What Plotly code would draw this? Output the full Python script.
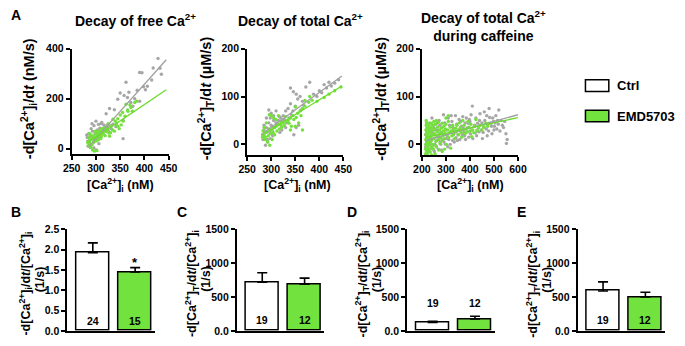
import plotly.graph_objects as go

W, H = 685, 346
FONT = "Liberation Sans"
GRAY = "#A6A6A6"
GREEN = "#74E03C"
GREEN_FILL = "#72E23E"

# ---------------- data ----------------
# Panel A1: decay of free Ca2+  ([Ca2+]i nM, -d[Ca2+]i/dt nM/s)
a1_ctrl = [(428,361),(418,323),(432,322),(395,304),(390,305),(435,298),(415,275),(402,236),(385,234),
           (368,226),(365,205),(380,200),(362,266),(350,223),(358,213),(345,198),(328,161),(338,156),
           (356,114),(356,40),(341,88),(321,140),(372,185),(376,170),(390,190),(406,250),(398,248),
           (300,110),(310,100),(316,95),(322,92),(312,105),(305,97),(296,92),(290,80),(285,60),(282,45),
           (288,50),(293,70),(298,60),(303,75),(308,82),(313,78),(318,85),(325,88),(330,92),(335,98),
           (283,30),(286,20),(290,15),(295,25),(300,35),(284,10),(289,5),(294,40),(299,45),(304,55),
           (309,65),(314,70),(320,75),(326,70),(332,80),(287,35),(291,50),(296,3),(301,-5),(306,20),
           (281,55),(292,100),(311,60)]
a1_emd = [(380,185),(384,190),(370,175),(362,178),(365,155),(375,150),(355,145),(350,135),(345,120),
          (360,130),(340,110),(335,118),(330,90),(325,100),(320,85),(338,70),(348,80),(352,95),(342,100),
          (318,70),(314,62),(310,55),(306,48),(302,52),(298,45),(294,40),(290,38),(286,30),(283,25),
          (288,20),(292,15),(296,28),(300,60),(304,65),(308,72),(312,80),(316,75),(322,68),(327,62),
          (285,45),(290,55),(295,50),(300,30),(305,35),(310,40),(284,12),(289,5),(293,-5),(297,-10),
          (302,-8),(287,60),(299,70),(303,42),(307,62),(311,48),(315,58),(319,52),(324,78),(330,64),
          (334,75),(356,110),(366,150),(372,165),(345,90),(328,50)]
a1_ctrl_fit_x = [285, 445]
a1_ctrl_fit_y = [8, 356]
a1_emd_fit_x = [285, 445]
a1_emd_fit_y = [26, 236]

# Panel A2: decay of total Ca2+  ([Ca2+]i nM, -d[Ca2+]T/dt uM/s)
a2_ctrl = [(440,135),(420,130),(432,128),(410,125),(400,112),(395,100),(380,130),(372,120),(388,105),
           (405,108),(415,118),(425,122),(360,100),(355,95),(365,90),(350,80),(345,70),(340,85),(335,75),
           (330,70),(325,60),(320,55),(315,50),(310,45),(305,50),(300,40),(295,45),(290,35),(285,30),
           (282,20),(287,15),(292,10),(297,25),(302,30),(307,35),(312,40),(317,58),(322,48),(327,52),
           (332,45),(337,55),(342,62),(347,20),(352,35),(357,40),(362,72),(367,82),(300,65),(305,60),
           (310,70),(295,72),(290,55),(285,40),(283,10),(288,-2),(293,5),(298,12),(303,18),(346,110),
           (340,118),(352,105),(322,30),(330,35),(318,25),(298,55)]
a2_emd = [(445,120),(432,112),(420,105),(410,98),(395,90),(385,92),(378,88),(370,80),(365,75),(360,70),
          (355,65),(350,78),(345,60),(340,55),(335,50),(330,58),(325,45),(320,40),(315,42),(310,38),
          (305,35),(300,30),(295,32),(290,25),(285,20),(282,15),(287,10),(292,5),(297,-2),(302,10),
          (307,20),(312,28),(317,32),(322,36),(327,40),(332,48),(337,44),(342,38),(347,52),(352,56),
          (357,45),(362,60),(300,60),(305,55),(296,62),(310,52),(315,60),(320,48),(290,45),(285,35),
          (283,28),(288,15),(294,18),(299,22),(304,25),(370,92),(380,100),(365,30),(350,38),(340,30)]
a2_ctrl_fit_x = [283, 447]
a2_ctrl_fit_y = [23, 143]
a2_emd_fit_x = [283, 447]
a2_emd_fit_y = [21, 122]

# Panel A3: decay of total Ca2+ during caffeine
a3_ctrl = [(555,10),(550,22),(540,35),(530,50),(520,72),(515,50),(505,45),(500,30),(495,55),(490,38),
           (480,75),(475,42),(470,60),(460,68),(455,25),(450,45),(440,50),(430,30),(425,55),(420,40),
           (410,80),(405,62),(400,48),(395,15),(390,35),(385,55),(380,45),(375,25),(370,58),(365,38),
           (360,30),(355,52),(350,20),(345,42),(340,60),(335,5),(330,35),(325,48),(320,25),(315,40),
           (310,55),(305,18),(300,30),(295,45),(290,62),(285,10),(280,25),(275,40),(270,15),(265,30),
           (260,-5),(255,20),(250,35),(245,-10),(240,8),(235,28),(230,-15),(225,15),(220,0),(218,30),
           (222,-20),(228,40),(232,45),(238,-8),(242,55),(248,12),(252,-15),(258,42),(262,8),(268,-10),
           (272,50),(278,0),(282,-12),(288,20),(292,5),(298,0),(302,12),(308,-5),(312,10),(318,0),
           (322,60),(328,8),(332,20),(338,28),(342,14),(348,8),(352,30),(358,10),(362,48),(368,20),
           (372,34),(378,18),(382,10),(388,26),(392,44),(398,52),(402,22),(408,30),(412,12),(418,38),
           (422,24),(428,18),(432,44),(438,26),(442,64),(448,30),(452,12),(458,36),(462,50),(468,32),
           (472,18),(478,28),(482,56),(488,44),(492,22),(498,48),(502,38),(508,60),(512,32),(518,42),
           (525,28),(535,40),(545,48),(552,2),(215,20),(216,-5),(219,45),(224,5),(226,-12),(234,0),
           (236,18),(244,25),(246,-2),(254,0),(256,30),(264,18),(266,45),(274,22),(276,5),(284,35)]
a3_emd = [(215,-20),(215,-10),(216,0),(216,10),(217,20),(217,30),(218,40),(218,50),(219,-15),(219,5),
          (220,15),(220,25),(221,35),(221,45),(222,-5),(223,-18),(223,8),(224,18),(224,28),(225,38),
          (226,-8),(226,2),(227,12),(227,22),(228,32),(229,42),(230,-12),(230,-2),(231,6),(232,16),
          (233,26),(234,36),(235,-16),(236,4),(237,14),(238,24),(239,34),(240,44),(241,-6),(242,10),
          (243,20),(244,30),(245,40),(246,0),(248,-10),(250,12),(252,22),(254,32),(256,42),(258,6),
          (260,-4),(262,16),(264,26),(266,36),(268,46),(270,10),(272,20),(274,30),(276,2),(278,14),
          (280,24),(282,34),(284,44),(286,8),(288,18),(290,28),(292,38),(294,12),(296,22),(298,32),
          (300,42),(302,0),(305,20),(308,30),(310,48),(312,14),(315,24),(318,36),(320,-8),(322,28),
          (325,18),(328,40),(330,30),(333,22),(336,12),(340,34),(343,26),(346,40),(350,30),(353,20),
          (356,45),(360,35),(363,25),(366,15),(370,50),(373,30),(376,40),(380,22),(384,32),(388,26),
          (392,48),(396,36),(400,28),(404,42),(408,16),(412,30),(416,24),(420,38),(425,52),(430,28),
          (436,34),(442,40),(450,30),(458,36),(466,44),(474,38),(480,44),(260,50),(250,48),(270,-12),
          (285,-15),(295,-10),(300,55),(310,60),(255,-20),(240,-22)]
a3_ctrl_fit_x = [215, 600]
a3_ctrl_fit_y = [8, 62]
a3_emd_fit_x = [215, 600]
a3_emd_fit_y = [14, 56]

# Bar panels B-E
groups = ["Ctrl", "EMD5703"]
bar_pos = [1, 2]
b_mean, b_sem, b_n = [1.93, 1.45], [0.24, 0.11], ["24", "15"]
c_mean, c_sem, c_n = [720, 690], [140, 90], ["19", "12"]
d_mean, d_sem, d_n = [125, 175], [15, 40], ["19", "12"]
e_mean, e_sem, e_n = [590, 500], [135, 70], ["19", "12"]

b_ticks = [0, 0.5, 1.0, 1.5, 2.0, 2.5]
b_ticktext = ["0.0", "0.5", "1.0", "1.5", "2.0", "2.5"]
cde_ticks = [0, 500, 1000, 1500]
cde_ticktext = ["0.0", "500", "1000", "1500"]

# ---------------- helpers ----------------
def X(p):
    return p / W

def Y(p):
    return 1 - p / H

def xdom(a, b):
    return [X(a), X(b)]

def ydom(top, bottom):
    return [Y(bottom), Y(top)]

BOLD = dict(family=FONT, color="black", weight="bold")

def axstyle(**kw):
    d = dict(showline=True, linecolor="black", linewidth=2, ticks="outside", ticklen=4,
             tickwidth=2, tickcolor="black", showgrid=False, zeroline=False,
             tickfont=dict(size=10.5, **BOLD), fixedrange=True, mirror=False)
    d.update(kw)
    return d

fig = go.Figure()

def scatter_panel(n, ctrl, emd, cfx, cfy, efx, efy):
    xa, ya = ("x" if n == 1 else f"x{n}"), ("y" if n == 1 else f"y{n}")
    cx, cy = zip(*ctrl)
    ex, ey = zip(*emd)
    fig.add_trace(go.Scatter(x=cx, y=cy, mode="markers", xaxis=xa, yaxis=ya, cliponaxis=False,
                             marker=dict(size=3.4, color=GRAY), showlegend=False))
    fig.add_trace(go.Scatter(x=ex, y=ey, mode="markers", xaxis=xa, yaxis=ya, cliponaxis=False,
                             marker=dict(size=3.4, color=GREEN), showlegend=False))
    fig.add_trace(go.Scatter(x=cfx, y=cfy, mode="lines", xaxis=xa, yaxis=ya,
                             line=dict(color="#A0A0A0", width=1.3), showlegend=False))
    fig.add_trace(go.Scatter(x=efx, y=efy, mode="lines", xaxis=xa, yaxis=ya,
                             line=dict(color="#6ADC2C", width=1.3), showlegend=False))

scatter_panel(1, a1_ctrl, a1_emd, a1_ctrl_fit_x, a1_ctrl_fit_y, a1_emd_fit_x, a1_emd_fit_y)
scatter_panel(2, a2_ctrl, a2_emd, a2_ctrl_fit_x, a2_ctrl_fit_y, a2_emd_fit_x, a2_emd_fit_y)
scatter_panel(3, a3_ctrl, a3_emd, a3_ctrl_fit_x, a3_ctrl_fit_y, a3_emd_fit_x, a3_emd_fit_y)

def bar_panel(n, mean, sem):
    xa, ya = f"x{n}", f"y{n}"
    fig.add_trace(go.Bar(x=bar_pos, y=mean, width=0.78, xaxis=xa, yaxis=ya,
                         marker=dict(color=["white", GREEN_FILL], line=dict(color="black", width=1.5)),
                         error_y=dict(type="data", symmetric=False, array=sem, arrayminus=[0, 0],
                                      color="black", thickness=1.6, width=5),
                         showlegend=False))

bar_panel(4, b_mean, b_sem)
bar_panel(5, c_mean, c_sem)
bar_panel(6, d_mean, d_sem)
bar_panel(7, e_mean, e_sem)

# ---------------- layout ----------------
TOP_Y = ydom(44.3, 153.2)
TOP_Y2 = ydom(44.3, 154.2)
BOT_Y = ydom(231.5, 336.5)

axis_b = [60, 234, 409, 584]
bar_w_px = 90

layout = dict(
    width=W, height=H, margin=dict(l=0, r=0, t=0, b=0), autosize=False,
    paper_bgcolor="white", plot_bgcolor="white", showlegend=False, bargap=0,
    xaxis=axstyle(domain=xdom(64.4, 164), range=[250, 450], tickvals=[250, 300, 350, 400, 450], anchor="y"),
    yaxis=axstyle(domain=TOP_Y, range=[-21, 400], tickvals=[0, 200, 400], anchor="x"),
    xaxis2=axstyle(domain=xdom(244.6, 343.4), range=[250, 450], tickvals=[250, 300, 350, 400, 450], anchor="y2"),
    yaxis2=axstyle(domain=TOP_Y2, range=[-22, 200], tickvals=[0, 100, 200], anchor="x2"),
    xaxis3=axstyle(domain=xdom(424, 522.7), range=[200, 600], tickvals=[200, 300, 400, 500, 600], anchor="y3"),
    yaxis3=axstyle(domain=TOP_Y2, range=[-22, 200], tickvals=[0, 100, 200], anchor="x3"),
)
for i, a in enumerate(axis_b):
    n = i + 4
    layout[f"xaxis{n}"] = axstyle(domain=xdom(a, a + bar_w_px), range=[0.4, 2.47], ticks="",
                                  showticklabels=False, anchor=f"y{n}")
    if n == 4:
        yk = dict(range=[0, 2.5], tickvals=b_ticks, ticktext=b_ticktext)
    else:
        yk = dict(range=[0, 1500], tickvals=cde_ticks, ticktext=cde_ticktext)
    layout[f"yaxis{n}"] = axstyle(domain=BOT_Y, anchor=f"x{n}", **yk)

fig.update_layout(**layout)

ann = []

def text(x, y, s, size, angle=0, xanchor="center", yanchor="middle", **kw):
    ann.append(dict(x=X(x), y=Y(y), xref="paper", yref="paper", text=s, showarrow=False,
                    textangle=angle, xanchor=xanchor, yanchor=yanchor,
                    font=dict(size=size, **BOLD), **kw))

# panel letters
text(7, 9, "A", 14)
text(7, 213, "B", 14)
text(178, 213, "C", 14)
text(352, 213, "D", 14)
text(526, 213, "E", 14)

# titles
text(130, 15, "Decay of free Ca<sup>2+</sup>", 14)
text(299, 15, "Decay of total Ca<sup>2+</sup>", 14)
text(487, 21, "Decay of total Ca<sup>2+</sup><br>during caffeine", 14)

# x titles
xt = "[Ca<sup>2+</sup>]<sub>i</sub> (nM)"
text(115, 185, xt, 12.5)
text(296, 185, xt, 12.5)
text(474, 185, xt, 12.5)

# y titles (top)
text(20, 96, "-d[Ca<sup>2+</sup>]<sub>i</sub>/d<i>t</i> (nM/s)", 14.5, angle=-90)
text(202, 96, "-d[Ca<sup>2+</sup>]<sub>T</sub>/d<i>t</i> (µM/s)", 14.5, angle=-90)
text(382, 96, "-d[Ca<sup>2+</sup>]<sub>T</sub>/d<i>t</i> (µM/s)", 14.5, angle=-90)

# y titles (bottom): two rotated lines
text(17, 288, "-d[Ca<sup>2+</sup>]<sub>i</sub>/d<i>t</i>/[Ca<sup>2+</sup>]<sub>i</sub>", 12.5, angle=-90)
text(32, 283, "(1/s)", 12.5, angle=-90)
for a in axis_b[1:]:
    text(a - 46, 288, "-d[Ca<sup>2+</sup>]<sub>T</sub>/d<i>t</i>/[Ca<sup>2+</sup>]<sub>i</sub>", 12.5, angle=-90)
    text(a - 31, 283, "(1/s)", 12.5, angle=-90)

# n labels and significance
def data_text(n, x, y, s, size=10.5):
    ann.append(dict(x=x, y=y, xref=f"x{n}", yref=f"y{n}", text=s, showarrow=False,
                    font=dict(size=size, **BOLD)))

for i in range(2):
    data_text(4, bar_pos[i], 0.24, b_n[i])
    data_text(5, bar_pos[i], 160, c_n[i])
    data_text(6, bar_pos[i], 405, d_n[i])
    data_text(7, bar_pos[i], 160, e_n[i])
data_text(4, bar_pos[1], b_mean[1] + b_sem[1] + 0.12, "*", size=13)

# legend
shapes = []
for j, (g, fill, cy) in enumerate(zip(groups, ["white", GREEN_FILL], [82.5, 114])):
    shapes.append(dict(type="rect", xref="paper", yref="paper", x0=X(592), x1=X(616),
                       y0=Y(cy + 6), y1=Y(cy - 6), line=dict(color="black", width=1.5), fillcolor=fill))
    text(622, cy, g, 13, xanchor="left")

fig.update_layout(annotations=ann, shapes=shapes)
fig.write_html("out.html", config=dict(displayModeBar=False),
               post_script="document.body.style.margin='0';document.body.style.overflow='hidden';")
